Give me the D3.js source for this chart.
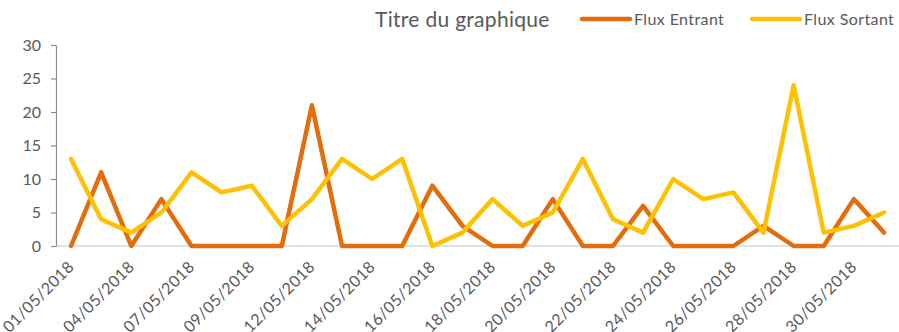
<!DOCTYPE html>
<html>
<head>
<meta charset="utf-8">
<script src="https://cdn.jsdelivr.net/npm/d3@7"></script>
<style>
  html, body { margin: 0; padding: 0; background: #fff; }
  svg { display: block; }
  text { font-family: "Lato", "Open Sans", sans-serif; fill: #595959; }
</style>
</head>
<body>
<svg id="chart" width="899" height="332"></svg>
<script>
// Daily flows, May 2018
const dates = [
  "01/05/2018", "02/05/2018", "04/05/2018", "05/05/2018", "07/05/2018", "08/05/2018",
  "09/05/2018", "10/05/2018", "12/05/2018", "13/05/2018", "14/05/2018", "15/05/2018",
  "16/05/2018", "17/05/2018", "18/05/2018", "19/05/2018", "20/05/2018", "21/05/2018",
  "22/05/2018", "23/05/2018", "24/05/2018", "25/05/2018", "26/05/2018", "27/05/2018",
  "28/05/2018", "29/05/2018", "30/05/2018", "31/05/2018"
];
const fluxEntrant = [0, 11, 0, 7, 0, 0, 0, 0, 21, 0, 0, 0, 9, 3, 0, 0, 7, 0, 0, 6, 0, 0, 0, 3, 0, 0, 7, 2];
const fluxSortant = [13, 4, 2, 5, 11, 8, 9, 3, 7, 13, 10, 13, 0, 2, 7, 3, 5, 13, 4, 2, 10, 7, 8, 2, 24, 2, 3, 5];
const yTicks = [0, 5, 10, 15, 20, 25, 30];
const seriesNames = ["Flux Entrant", "Flux Sortant"];
const seriesColors = ["#E46C0A", "#FFC000"];
const chartTitle = "Titre du graphique";

const svg = d3.select("#chart");
const plotLeft = 56, plotRight = 899, plotTop = 45, plotBottom = 246;

const x = d3.scaleBand().domain(dates).range([plotLeft, plotRight]).padding(0);
const y = d3.scaleLinear().domain([0, 30]).range([plotBottom, plotTop]);
const cx = d => x(d) + x.bandwidth() / 2;

// baseline at zero
svg.append("line")
  .attr("x1", plotLeft).attr("x2", plotRight)
  .attr("y1", y(0)).attr("y2", y(0))
  .attr("stroke", "#D9D9D9").attr("stroke-width", 1.5);

// y axis
const yAxis = svg.append("g")
  .attr("transform", `translate(${plotLeft},0)`)
  .call(d3.axisLeft(y).tickValues(yTicks).tickSize(5).tickPadding(10).tickSizeOuter(0));
yAxis.select(".domain").attr("stroke", "#8C8C8C").attr("stroke-width", 1.2);
yAxis.selectAll(".tick line").attr("stroke", "#8C8C8C").attr("stroke-width", 1.2);
yAxis.selectAll(".tick text")
  .style("font-family", "Lato, 'Open Sans', sans-serif")
  .attr("font-size", 16).attr("fill", "#595959");

// x axis labels, every second category
const xAxis = svg.append("g")
  .attr("transform", `translate(0,${plotBottom})`)
  .call(d3.axisBottom(x).tickValues(dates.filter((d, i) => i % 2 === 0)).tickSize(0).tickPadding(0));
xAxis.select(".domain").remove();
xAxis.selectAll(".tick text")
  .style("font-family", "Lato, 'Open Sans', sans-serif")
  .attr("font-size", 16).attr("letter-spacing", 0.4).attr("fill", "#595959")
  .attr("text-anchor", "end")
  .attr("dy", null).attr("y", 0)
  .attr("transform", "translate(4,22) rotate(-45)");

// lines
const line = d3.line().x((d, i) => cx(dates[i])).y(d => y(d));
[fluxEntrant, fluxSortant].forEach((vals, k) => {
  svg.append("path")
    .datum(vals)
    .attr("d", line)
    .attr("fill", "none")
    .attr("stroke", seriesColors[k])
    .attr("stroke-width", 4.5)
    .attr("stroke-linejoin", "round")
    .attr("stroke-linecap", "round");
});

// title
svg.append("text")
  .attr("x", 375).attr("y", 27)
  .attr("font-size", 21).attr("letter-spacing", 0.3)
  .text(chartTitle);

// legend
const legendX = [582, 752];
seriesNames.forEach((name, k) => {
  const g = svg.append("g").attr("transform", `translate(${legendX[k]},19)`);
  g.append("line").attr("x1", 0).attr("x2", 48).attr("y1", 0).attr("y2", 0)
    .attr("stroke", seriesColors[k]).attr("stroke-width", 4.5).attr("stroke-linecap", "round");
  g.append("text").attr("x", 52).attr("y", 6).attr("font-size", 16).attr("letter-spacing", 0.4).text(name);
});
</script>
</body>
</html>
